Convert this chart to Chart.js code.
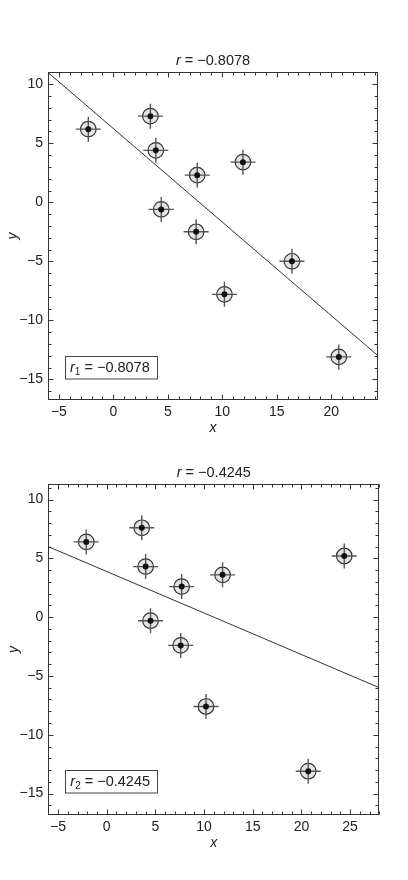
<!DOCTYPE html>
<html><head><meta charset="utf-8">
<script src="https://cdn.jsdelivr.net/npm/chart.js@4"></script>
<style>
html,body{margin:0;padding:0;background:#fff;}
.box{position:relative;width:408px;height:440px;}
</style></head><body>
<div class="box"><canvas id="c1"></canvas></div>
<div class="box"><canvas id="c2"></canvas></div>
<script>
// ---- data ----
const x1 = [-2.3, 3.4, 3.9, 11.9, 7.7, 4.4, 7.6, 16.4, 10.2, 20.7];
const y1 = [6.2, 7.3, 4.4, 3.4, 2.3, -0.6, -2.5, -5.0, -7.8, -13.1];
const fitX1 = [-6, 24.3];
const fitY1 = [11.0, -13.0];

const x2 = [-2.1, 3.6, 4.0, 7.7, 11.9, 24.4, 4.5, 7.6, 10.2, 20.7];
const y2 = [6.4, 7.6, 4.3, 2.6, 3.6, 5.2, -0.3, -2.4, -7.6, -13.1];
const fitX2 = [-6, 28];
const fitY2 = [6.0, -6.0];

const xTicks1 = [-5, 0, 5, 10, 15, 20];
const xTicks2 = [-5, 0, 5, 10, 15, 20, 25];
const yTicks = [-15, -10, -5, 0, 5, 10];

const rText = ["\u22120.8078", "\u22120.4245"];
const rSub = ["1", "2"];

const FONT = '"Liberation Sans", Arial, Helvetica, sans-serif';
const INK = '#222';

function pts(xs, ys) { return xs.map((x, i) => ({x: x, y: ys[i]})); }

function drawRich(ctx, parts, x, y, align) {
  let w = 0;
  parts.forEach(p => {
    ctx.font = (p.italic ? 'italic ' : '') + p.size + 'px ' + FONT;
    p.w = ctx.measureText(p.t).width;
    w += p.w;
  });
  let cx = align === 'center' ? x - w / 2 : x;
  ctx.textBaseline = 'alphabetic';
  ctx.textAlign = 'left';
  parts.forEach(p => {
    ctx.font = (p.italic ? 'italic ' : '') + p.size + 'px ' + FONT;
    ctx.fillText(p.t, cx, y + (p.dy || 0));
    cx += p.w;
  });
  return w;
}

const framePlugin = {
  id: 'frame',
  afterDraw(chart, args, opts) {
    const ctx = chart.ctx;
    const a = chart.chartArea;
    const xs = chart.scales.x, ys = chart.scales.y;
    ctx.save();
    ctx.strokeStyle = '#333';
    ctx.lineWidth = 1;
    const L = Math.round(a.left) + 0.5, R = Math.round(a.right) - 0.5;
    const T = Math.round(a.top) + 0.5, B = Math.round(a.bottom) - 0.5;
    ctx.strokeRect(L, T, R - L, B - T);
    ctx.beginPath();
    for (let v = Math.ceil(xs.min); v <= Math.floor(xs.max); v++) {
      const px = Math.round(xs.getPixelForValue(v)) + 0.5;
      const len = (v % 5 === 0) ? 5 : 3;
      ctx.moveTo(px, B); ctx.lineTo(px, B - len);
      ctx.moveTo(px, T); ctx.lineTo(px, T + len);
    }
    for (let v = Math.ceil(ys.min); v <= Math.floor(ys.max); v++) {
      const py = Math.round(ys.getPixelForValue(v)) + 0.5;
      const len = (v % 5 === 0) ? 5 : 3;
      ctx.moveTo(L, py); ctx.lineTo(L + len, py);
      ctx.moveTo(R, py); ctx.lineTo(R - len, py);
    }
    ctx.stroke();

    // title
    ctx.fillStyle = INK;
    drawRich(ctx, [
      {t: 'r', italic: true, size: 14.5},
      {t: ' = ' + opts.r, size: 14.5}
    ], (a.left + a.right) / 2, a.top - 7, 'center');

    // annotation box
    const bx = a.left + 16.5, bb = a.bottom - 22, bw = 92, bh = 22.5;
    ctx.fillStyle = '#fff';
    ctx.fillRect(Math.round(bx) + 0.5, Math.round(bb - bh) + 0.5, bw, bh);
    ctx.strokeStyle = '#444';
    ctx.strokeRect(Math.round(bx) + 0.5, Math.round(bb - bh) + 0.5, bw, bh);
    ctx.fillStyle = INK;
    drawRich(ctx, [
      {t: 'r', italic: true, size: 14.5},
      {t: opts.sub, size: 10, dy: 3},
      {t: ' = ' + opts.r, size: 14.5}
    ], bx + 5.5, bb - 6.5, 'left');
    ctx.restore();
  }
};

function makeChart(id, xs, ys, fx, fy, xTicks, xr, yr, pad, idx) {
  const data = pts(xs, ys);
  new Chart(document.getElementById(id), {
    type: 'scatter',
    data: {
      datasets: [
        {data: data, order: 0, pointStyle: 'circle', pointRadius: 3, backgroundColor: '#111', borderColor: '#111', borderWidth: 0},
        {data: data, order: 1, pointStyle: 'cross', pointRadius: 12.5, borderColor: '#555', borderWidth: 1.4, backgroundColor: 'rgba(0,0,0,0)'},
        {data: data, order: 2, pointStyle: 'circle', pointRadius: 7.8, backgroundColor: '#e4e4e4', borderColor: '#333', borderWidth: 1.2},
        {data: pts(fx, fy), order: 3, showLine: true, pointRadius: 0, borderColor: '#333', borderWidth: 1, fill: false}
      ]
    },
    options: {
      responsive: true,
      maintainAspectRatio: false,
      animation: false,
      events: [],
      layout: {padding: pad},
      plugins: {
        legend: {display: false},
        tooltip: {enabled: false},
        frame: {r: rText[idx], sub: rSub[idx]}
      },
      scales: {
        x: {
          type: 'linear', min: xr[0], max: xr[1],
          grid: {display: false, drawTicks: false}, border: {display: false},
          afterBuildTicks: s => { s.ticks = xTicks.map(v => ({value: v})); },
          afterFit: s => { s.height = 40; },
          ticks: {font: {family: FONT, size: 14}, color: INK, padding: 4, autoSkip: false, maxRotation: 0, callback: v => String(v).replace('-', '\u2212')},
          title: {display: true, text: 'x', font: {family: FONT, size: 14, style: 'italic'}, color: INK, padding: {top: 0, bottom: 3}}
        },
        y: {
          type: 'linear', min: yr[0], max: yr[1],
          grid: {display: false, drawTicks: false}, border: {display: false},
          afterBuildTicks: s => { s.ticks = yTicks.map(v => ({value: v})); },
          afterFit: s => { s.width = 48; },
          ticks: {font: {family: FONT, size: 14}, color: INK, padding: 5, autoSkip: false, callback: v => String(v).replace('-', '\u2212')},
          title: {display: true, text: 'y', font: {family: FONT, size: 14, style: 'italic'}, color: INK, padding: {top: 5, bottom: 0}}
        }
      }
    },
    plugins: [framePlugin]
  });
}

makeChart('c1', x1, y1, fitX1, fitY1, xTicks1, [-6, 24.3], [-16.75, 11.04], {top: 72, right: 30, left: 0, bottom: 0}, 0);
makeChart('c2', x2, y2, fitX2, fitY2, xTicks2, [-6, 28], [-16.8, 11.3], {top: 44.3, right: 28.7, left: 0.3, bottom: 25.3}, 1);
</script>
</body></html>
